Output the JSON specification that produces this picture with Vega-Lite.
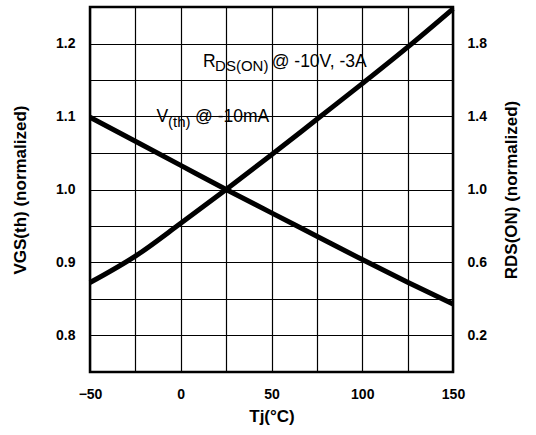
{
  "$schema": "https://vega.github.io/schema/vega-lite/v6.json",
  "width": 363,
  "height": 365,
  "autosize": {"type": "none"},
  "padding": {"left": 90, "top": 7, "right": 83, "bottom": 63},
  "background": "white",
  "config": {
    "view": {"stroke": "black", "strokeWidth": 2.5},
    "axis": {
      "labelFont": "Liberation Sans",
      "labelFontSize": 14,
      "labelFontWeight": "bold",
      "labelColor": "black",
      "titleFont": "Liberation Sans",
      "titleFontSize": 17,
      "titleFontWeight": "bold",
      "titleColor": "black",
      "ticks": false,
      "tickSize": 0,
      "domain": false,
      "gridColor": "black",
      "gridOpacity": 1,
      "gridWidth": 1.2
    },
    "text": {"font": "Liberation Sans", "color": "black"}
  },
  "datasets": {
    "curves": [
      {"series": "Vth", "T": -50, "value": 1.099},
      {"series": "Vth", "T": -25, "value": 1.066},
      {"series": "Vth", "T": 0, "value": 1.033},
      {"series": "Vth", "T": 25, "value": 1.0},
      {"series": "Vth", "T": 50, "value": 0.968},
      {"series": "Vth", "T": 75, "value": 0.936},
      {"series": "Vth", "T": 100, "value": 0.904},
      {"series": "Vth", "T": 125, "value": 0.873},
      {"series": "Vth", "T": 150, "value": 0.843},
      {"series": "RDS", "T": -50, "value": 0.49},
      {"series": "RDS", "T": -25, "value": 0.635},
      {"series": "RDS", "T": 0, "value": 0.815},
      {"series": "RDS", "T": 25, "value": 1.0},
      {"series": "RDS", "T": 50, "value": 1.19},
      {"series": "RDS", "T": 75, "value": 1.385},
      {"series": "RDS", "T": 100, "value": 1.58},
      {"series": "RDS", "T": 125, "value": 1.78},
      {"series": "RDS", "T": 150, "value": 1.99}
    ],
    "labels": [
      {"role": "main", "text": "R", "T": 12.3, "value": 1.168},
      {"role": "sub", "text": "DS(ON)", "T": 18.9, "value": 1.163},
      {"role": "main", "text": "@ -10V, -3A", "T": 50.1, "value": 1.168},
      {"role": "main", "text": "V", "T": -13.3, "value": 1.093},
      {"role": "sub", "text": "(th)", "T": -7.0, "value": 1.086},
      {"role": "main", "text": "@ -10mA", "T": 7.9, "value": 1.093}
    ]
  },
  "encoding": {
    "x": {
      "field": "T",
      "type": "quantitative",
      "scale": {"domain": [-50, 150], "nice": false, "zero": false},
      "axis": {
        "values": [-50, -25, 0, 25, 50, 75, 100, 125, 150],
        "labelExpr": "datum.value % 50 === 0 ? datum.label : ''",
        "labelFlush": false,
        "labelPadding": 15,
        "title": "Tj(°C)",
        "titlePadding": 7
      }
    }
  },
  "layer": [
    {
      "encoding": {
        "y": {
          "field": "value",
          "type": "quantitative",
          "scale": {"domain": [0.75, 1.25], "nice": false, "zero": false},
          "axis": {
            "orient": "left",
            "values": [0.75, 0.8, 0.85, 0.9, 0.95, 1.0, 1.05, 1.1, 1.15, 1.2, 1.25],
            "format": ".1f",
            "labelExpr": "round(datum.value * 20) % 2 === 0 ? datum.label : ''",
            "labelPadding": 15,
            "title": "VGS(th) (normalized)",
            "titlePadding": 26
          }
        }
      },
      "layer": [
        {
          "data": {"name": "curves"},
          "transform": [{"filter": "datum.series === 'Vth'"}],
          "mark": {"type": "line", "color": "black", "strokeWidth": 5, "interpolate": "monotone"}
        },
        {
          "data": {"name": "labels"},
          "transform": [{"filter": "datum.role === 'main'"}],
          "mark": {"type": "text", "align": "left", "baseline": "alphabetic", "fontSize": 17.5},
          "encoding": {"text": {"field": "text", "type": "nominal"}}
        },
        {
          "data": {"name": "labels"},
          "transform": [{"filter": "datum.role === 'sub'"}],
          "mark": {"type": "text", "align": "left", "baseline": "alphabetic", "fontSize": 15},
          "encoding": {"text": {"field": "text", "type": "nominal"}}
        }
      ]
    },
    {
      "data": {"name": "curves"},
      "transform": [{"filter": "datum.series === 'RDS'"}],
      "mark": {"type": "line", "color": "black", "strokeWidth": 5, "interpolate": "monotone"},
      "encoding": {
        "y": {
          "field": "value",
          "type": "quantitative",
          "scale": {"domain": [0, 2], "nice": false, "zero": false},
          "axis": {
            "orient": "right",
            "values": [0.2, 0.6, 1.0, 1.4, 1.8],
            "format": ".1f",
            "grid": false,
            "labelPadding": 14,
            "title": "RDS(ON) (normalized)",
            "titleAngle": 270,
            "titlePadding": 34
          }
        }
      }
    }
  ],
  "resolve": {"scale": {"y": "independent"}, "axis": {"y": "independent"}}
}
